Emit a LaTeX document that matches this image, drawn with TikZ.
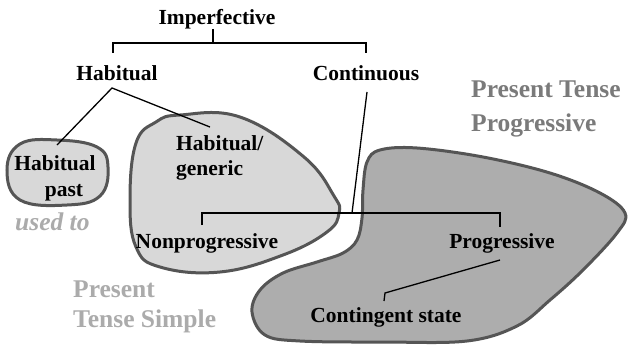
\documentclass[tikz,border=0pt]{standalone}
\usepackage{fontspec}
\setmainfont{Liberation Serif}
\newfontfamily\lbf{Liberation Serif Bold}
\newfontfamily\lbfi{Liberation Serif Bold Italic}
\begin{document}
\begin{tikzpicture}[x=1pt,y=-1pt,
  lbl/.style={font=\lbf\fontsize{21.5}{24}\selectfont, inner sep=0pt, anchor=base},
  biglbl/.style={font=\lbf\fontsize{25.5}{30}\selectfont, inner sep=0pt, anchor=base west},
  blob/.style={draw=blobedge, line width=3pt},
  conn/.style={draw=black, line width=1.3pt}]
\definecolor{blobedge}{HTML}{555555}
\definecolor{lightfill}{HTML}{D8D8D8}
\definecolor{darkfill}{HTML}{ADADAD}
\definecolor{midgray}{HTML}{7A7A7A}
\definecolor{palegray}{HTML}{ABABAB}
\useasboundingbox (0,0) rectangle (628,345);
\fill[white] (0,0) rectangle (628,345);
% blobs
\draw[blob, fill=lightfill] plot[smooth cycle, tension=0.7] coordinates {(7,170) (20,144) (57,140) (97,147) (108,167) (100,196) (67,205) (20,200)};
\draw[blob, fill=lightfill] plot[smooth cycle, tension=0.7] coordinates {(180,115) (240,117) (304,157) (334,196) (339,213) (327,232) (283,255) (220,272) (160,267) (136,247) (130,200) (136,143) (156,122)};
\draw[blob, fill=darkfill] plot[smooth cycle, tension=0.6] coordinates {(380,150) (417,148) (483,157) (550,173) (600,193) (625,213) (617,233) (583,270) (550,300) (517,326) (467,341) (383,342) (300,341) (265,335) (252,312) (260,290) (283,273) (317,262) (343,253) (357,240) (362,218) (363,190) (367,162)};
% labels
\node[lbl] (imp) at (217,25) {Imperfective};
\node[lbl] (hab) at (117,80) {Habitual};
\node[lbl] (cont) at (366,80) {Continuous};
\node[lbl] (hp1) at (55,170) {Habitual};
\node[lbl] (hp2) at (64,196) {past};
\node[lbl, anchor=base west] (hg1) at (176,150) {Habitual/};
\node[lbl, anchor=base west] (hg2) at (176,175) {generic};
\node[lbl] (nonprog) at (207,248) {Nonprogressive};
\node[lbl] (prog) at (502,248) {Progressive};
\node[lbl] (cs) at (386,322) {Contingent state};
\node[font=\lbfi\fontsize{25.5}{30}\selectfont, inner sep=0pt, anchor=base west, text=palegray] (used) at (15,230) {used to};
\node[biglbl, text=midgray] (ptp1) at (471,97) {Present Tense};
\node[biglbl, text=midgray] (ptp2) at (471,131) {Progressive};
\node[biglbl, text=palegray] (pts1) at (73,297) {Present};
\node[biglbl, text=palegray] (pts2) at (73,327) {Tense Simple};
% coordinates
\coordinate (impT) at (213,29);
\coordinate (impB) at (213,43);
\coordinate (brL) at (113,43);
\coordinate (brR) at (366,43);
\coordinate (habT) at (113,53);
\coordinate (contT) at (366,53);
\coordinate (habV) at (112,88);
\coordinate (hpT) at (57,145);
\coordinate (hgT) at (210,127);
\coordinate (contB) at (367,92);
\coordinate (lowJ) at (352,213);
\coordinate (lowL) at (202,213);
\coordinate (lowR) at (500,213);
\coordinate (nonT) at (202,225);
\coordinate (progT) at (500,227);
\coordinate (progB) at (500,260);
\coordinate (csK) at (385,293);
\coordinate (csT) at (384,301);
% connectors
\draw[conn] (impT) -- (impB);
\draw[conn] (habT) -- (brL) -- (brR) -- (contT);
\draw[conn] (hpT) -- (habV) -- (hgT);
\draw[conn] (contB) -- (lowJ);
\draw[conn] (nonT) -- (lowL) -- (lowR) -- (progT);
\draw[conn] (progB) -- (csK) -- (csT);
\end{tikzpicture}
\end{document}
